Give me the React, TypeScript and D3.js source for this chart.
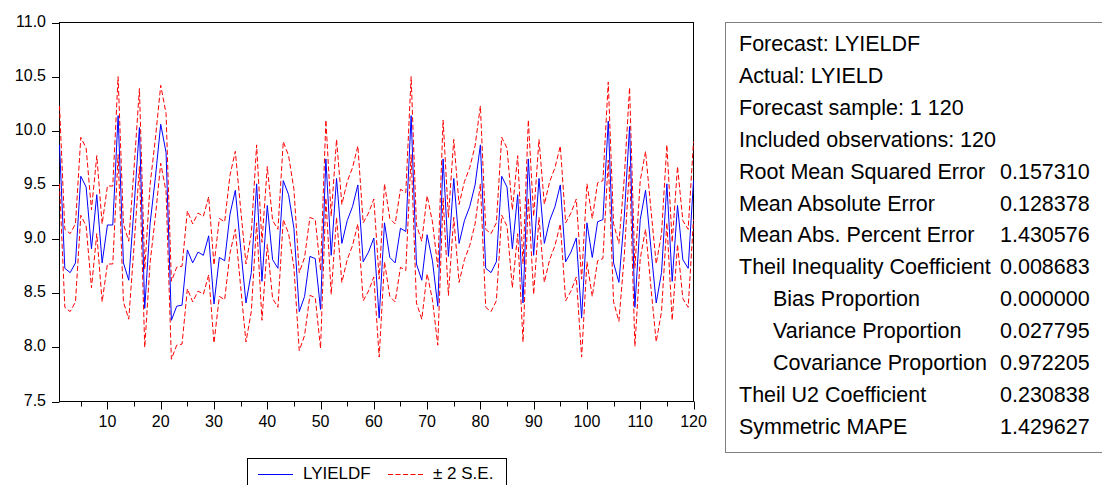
import React from "react";
import * as d3 from "d3";

// Forecast LYIELDF, observations 1..120
const forecast: number[] = [
  9.87, 8.73, 8.69, 8.78, 9.58, 9.48, 8.91, 9.41, 8.78, 9.13,
  9.13, 10.14, 8.78, 8.62, 9.30, 10.03, 8.36, 9.14, 9.57, 10.06,
  9.80, 8.25, 8.38, 8.39, 8.90, 8.78, 8.88, 8.85, 9.03, 8.40,
  8.83, 8.80, 9.23, 9.45, 8.92, 8.41, 8.69, 9.51, 8.61, 9.31,
  8.81, 8.73, 9.54, 9.41, 9.10, 8.33, 8.47, 8.84, 8.82, 8.35,
  9.74, 8.85, 9.56, 8.96, 9.17, 9.30, 9.50, 8.79, 8.88, 9.01,
  8.27, 9.15, 8.83, 8.78, 9.10, 9.07, 10.14, 8.77, 8.62, 9.04,
  8.80, 8.38, 9.74, 8.84, 9.56, 8.96, 9.17, 9.30, 9.50, 9.87,
  8.73, 8.69, 8.79, 9.58, 9.48, 8.91, 9.41, 8.41, 9.74, 8.85,
  9.56, 8.96, 9.17, 9.30, 9.50, 8.79, 8.88, 9.01, 8.27, 9.15,
  8.83, 9.16, 9.18, 10.09, 8.78, 8.60, 9.20, 10.04, 8.37, 9.18,
  9.45, 8.92, 8.41, 8.69, 9.51, 8.61, 9.31, 8.81, 8.73, 9.54,
];
// two standard errors (band half-width)
const twoSE = 0.36;

const yTicks: number[] = [7.5, 8.0, 8.5, 9.0, 9.5, 10.0, 10.5, 11.0];
const xMajorTicks: number[] = [10, 20, 30, 40, 50, 60, 70, 80, 90, 100, 110, 120];
const xMinorTicks: number[] = [5, 15, 25, 35, 45, 55, 65, 75, 85, 95, 105, 115];

const statLabels: string[] = [
  "Forecast: LYIELDF",
  "Actual: LYIELD",
  "Forecast sample: 1 120",
  "Included observations: 120",
  "Root Mean Squared Error",
  "Mean Absolute Error",
  "Mean Abs. Percent Error",
  "Theil Inequality Coefficient",
  "Bias Proportion",
  "Variance Proportion",
  "Covariance Proportion",
  "Theil U2 Coefficient",
  "Symmetric MAPE",
];
const statValues: string[] = [
  "", "", "", "",
  "0.157310", "0.128378", "1.430576", "0.008683",
  "0.000000", "0.027795", "0.972205", "0.230838", "1.429627",
];
const statIndented: boolean[] = [
  false, false, false, false, false, false, false, false,
  true, true, true, false, false,
];

const FONT = "'Liberation Sans', Arial, Helvetica, sans-serif";

export default function App() {
  const left = 59.5, right = 693.5, top = 22.5, bottom = 401.5;
  const x = d3.scaleLinear().domain([1, 120]).range([left, right]);
  const y = d3.scaleLinear().domain([7.5, 11]).range([bottom, top]);
  const idx = forecast.map((_, i) => i + 1);
  const line = d3
    .line<number>()
    .x((_, i) => x(idx[i]))
    .y((d) => y(d));
  const upper = forecast.map((v) => v + twoSE);
  const lower = forecast.map((v) => v - twoSE);

  return (
    <svg
      width={1102}
      height={485}
      style={{ position: "absolute", left: 0, top: 0, background: "#fff" }}
      fontFamily={FONT}
    >
      <rect x={0} y={0} width={1102} height={485} fill="#fff" />
      {/* plot frame */}
      <rect x={left} y={top} width={right - left} height={bottom - top} fill="none" stroke="#000" strokeWidth={1} />
      {/* y ticks */}
      {yTicks.map((t) => (
        <g key={"y" + t}>
          <line x1={52} x2={left} y1={Math.round(y(t)) + 0.5} y2={Math.round(y(t)) + 0.5} stroke="#000" />
          <text x={46} y={y(t) + 4} fontSize={16} textAnchor="end" fill="#000">
            {d3.format(".1f")(t)}
          </text>
        </g>
      ))}
      {/* x ticks */}
      {xMinorTicks.map((t) => (
        <line key={"xm" + t} x1={Math.round(x(t)) + 0.5} x2={Math.round(x(t)) + 0.5} y1={bottom} y2={bottom + 5} stroke="#000" />
      ))}
      {xMajorTicks.map((t) => (
        <g key={"xM" + t}>
          <line x1={Math.round(x(t)) + 0.5} x2={Math.round(x(t)) + 0.5} y1={bottom} y2={bottom + 8} stroke="#000" />
          <text x={x(t)} y={426.5} fontSize={16} textAnchor="middle" fill="#000">
            {t}
          </text>
        </g>
      ))}
      {/* bands */}
      <path d={line(upper) || ""} fill="none" stroke="#ff0000" strokeWidth={1} strokeDasharray="5,2.5" />
      <path d={line(lower) || ""} fill="none" stroke="#ff0000" strokeWidth={1} strokeDasharray="5,2.5" />
      {/* forecast */}
      <path d={line(forecast) || ""} fill="none" stroke="#0000ff" strokeWidth={1} />

      {/* legend */}
      <rect x={247.5} y={458.5} width={259} height={40} fill="#fff" stroke="#000" />
      <line x1={258} x2={293} y1={474.5} y2={474.5} stroke="#0000ff" />
      <text x={303} y={478.5} fontSize={17} fill="#000">LYIELDF</text>
      <line x1={388} x2={425} y1={474.5} y2={474.5} stroke="#ff0000" strokeDasharray="5,2.5" />
      <text x={433} y={478.5} fontSize={17} fill="#000">± 2 S.E.</text>

      {/* statistics box */}
      <rect x={725.5} y={22.5} width={400} height={430} fill="#fff" stroke="#808080" />
      {statLabels.map((s, i) => (
        <g key={"s" + i}>
          <text x={statIndented[i] ? 773 : 739} y={51 + i * 31.9} fontSize={21.5} fill="#000">
            {s}
          </text>
          {statValues[i] && (
            <text x={1000} y={51 + i * 31.9} fontSize={21.5} fill="#000">
              {statValues[i]}
            </text>
          )}
        </g>
      ))}
    </svg>
  );
}
